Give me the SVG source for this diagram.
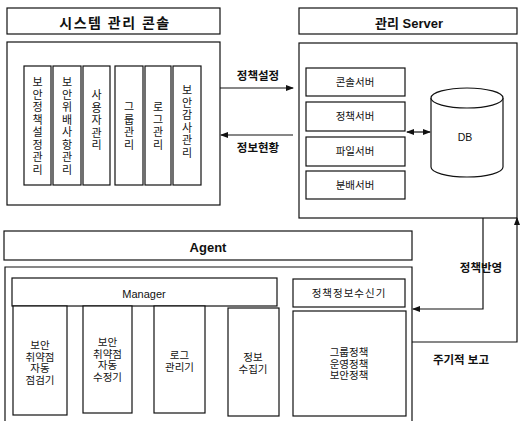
<svg xmlns="http://www.w3.org/2000/svg" width="521" height="421" viewBox="0 0 521 421">
<defs>
<style>
.b{fill:#fff;stroke:#111;stroke-width:1.2}
.t{font-family:"Liberation Sans","Noto Sans CJK KR",sans-serif;fill:#111;text-anchor:middle}
.h{font-weight:bold}
.v{font-size:11px}
.s{font-size:10.5px}
.c{fill:none;stroke:#111;stroke-width:1.2}
</style>
<marker id="ah" markerWidth="8" markerHeight="6" refX="7" refY="3" orient="auto" markerUnits="userSpaceOnUse">
<path d="M0,0 L8,3 L0,6 Z" fill="#111"/>
</marker>
<marker id="as" markerWidth="8" markerHeight="6" refX="1" refY="3" orient="auto" markerUnits="userSpaceOnUse">
<path d="M8,0 L0,3 L8,6 Z" fill="#111"/>
</marker>
</defs>
<rect width="521" height="421" fill="#fff"/>

<g id="console">
<rect class="b" x="7" y="8" width="213" height="26"/>
<text class="t h" x="115" y="28" font-size="14" letter-spacing="1.5">시스템 관리 콘솔</text>
<rect class="b" x="7" y="42" width="213" height="163"/>
</g>
<g id="bar1">
<rect class="b" x="24" y="66" width="27" height="119"/>
<text class="t v"><tspan x="37.5" y="86">보</tspan><tspan x="37.5" y="98.5">안</tspan><tspan x="37.5" y="111">정</tspan><tspan x="37.5" y="123.5">책</tspan><tspan x="37.5" y="136">설</tspan><tspan x="37.5" y="148.5">정</tspan><tspan x="37.5" y="161">관</tspan><tspan x="37.5" y="173.5">리</tspan></text>
</g>
<g id="bar2">
<rect class="b" x="53" y="66" width="28" height="119"/>
<text class="t v"><tspan x="67" y="86">보</tspan><tspan x="67" y="98.5">안</tspan><tspan x="67" y="111">위</tspan><tspan x="67" y="123.5">배</tspan><tspan x="67" y="136">사</tspan><tspan x="67" y="148.5">항</tspan><tspan x="67" y="161">관</tspan><tspan x="67" y="173.5">리</tspan></text>
</g>
<g id="bar3">
<rect class="b" x="83" y="66" width="27" height="119"/>
<text class="t v"><tspan x="96.5" y="99">사</tspan><tspan x="96.5" y="111.5">용</tspan><tspan x="96.5" y="124">자</tspan><tspan x="96.5" y="136.5">관</tspan><tspan x="96.5" y="149">리</tspan></text>
</g>
<g id="bar4">
<rect class="b" x="115" y="66" width="28" height="119"/>
<text class="t v"><tspan x="129" y="111">그</tspan><tspan x="129" y="123.5">룹</tspan><tspan x="129" y="136">관</tspan><tspan x="129" y="148.5">리</tspan></text>
</g>
<g id="bar5">
<rect class="b" x="145" y="66" width="26" height="119"/>
<text class="t v"><tspan x="158" y="111">로</tspan><tspan x="158" y="123.5">그</tspan><tspan x="158" y="136">관</tspan><tspan x="158" y="148.5">리</tspan></text>
</g>
<g id="bar6">
<rect class="b" x="173" y="66" width="28" height="119"/>
<text class="t v"><tspan x="187" y="94">보</tspan><tspan x="187" y="106.5">안</tspan><tspan x="187" y="119">감</tspan><tspan x="187" y="131.5">사</tspan><tspan x="187" y="144">관</tspan><tspan x="187" y="156.5">리</tspan></text>
</g>

<g id="server">
<rect class="b" x="299" y="8" width="218" height="26"/>
<text class="t h" x="409" y="27.5" font-size="13">관리 Server</text>
<rect class="b" x="299" y="43" width="218" height="175"/>
</g>
<g id="srv1"><rect class="b" x="306" y="68" width="99" height="28"/><text class="t s" x="355" y="86">콘솔서버</text></g>
<g id="srv2"><rect class="b" x="306" y="102" width="99" height="29"/><text class="t s" x="355" y="120">정책서버</text></g>
<g id="srv3"><rect class="b" x="306" y="137" width="99" height="29"/><text class="t s" x="355" y="155">파일서버</text></g>
<g id="srv4"><rect class="b" x="306" y="171" width="99" height="28"/><text class="t s" x="355" y="189">분배서버</text></g>
<g id="db">
<path class="b" d="M431,98 L431,167 A36,10 0 0 0 503,167 L503,98"/>
<ellipse class="b" cx="467" cy="98" rx="36" ry="10"/>
<text class="t s" x="465" y="141">DB</text>
</g>

<g id="agent">
<rect class="b" x="4" y="231" width="408" height="29"/>
<text class="t h" x="208" y="251.5" font-size="13">Agent</text>
<path class="c" d="M5,421 L5,267 L412,267 L412,421"/>
</g>
<g id="manager"><rect class="b" x="12" y="278" width="265" height="28"/><text class="t" x="144" y="297.5" font-size="11">Manager</text></g>
<g id="ag1"><rect class="b" x="13" y="306" width="54" height="109"/><text class="t s"><tspan x="40" y="349">보안</tspan><tspan x="40" y="361">취약점</tspan><tspan x="40" y="372">자동</tspan><tspan x="40" y="383.5">점검기</tspan></text></g>
<g id="ag2"><rect class="b" x="83" y="306" width="49" height="107"/><text class="t s"><tspan x="107.5" y="346">보안</tspan><tspan x="107.5" y="357.5">취약점</tspan><tspan x="107.5" y="369">자동</tspan><tspan x="107.5" y="380.5">수정기</tspan></text></g>
<g id="ag3"><rect class="b" x="154" y="306" width="51" height="107"/><text class="t s"><tspan x="179.5" y="359">로그</tspan><tspan x="179.5" y="371">관리기</tspan></text></g>
<g id="ag4"><rect class="b" x="228" y="308" width="51" height="108"/><text class="t s"><tspan x="253" y="361">정보</tspan><tspan x="253" y="372.5">수집기</tspan></text></g>
<g id="receiver"><rect class="b" x="293" y="279" width="112" height="28"/><text class="t s" x="349" y="297" letter-spacing="1">정책정보수신기</text></g>
<g id="policy"><rect class="b" x="293" y="311" width="113" height="105"/><text class="t s"><tspan x="349" y="356">그룹정책</tspan><tspan x="349" y="367.5">운영정책</tspan><tspan x="349" y="379">보안정책</tspan></text></g>

<g id="connectors">
<line class="c" x1="220" y1="88" x2="293" y2="88" marker-end="url(#ah)"/>
<line class="c" x1="293" y1="135" x2="221" y2="135" marker-end="url(#ah)"/>
<line class="c" x1="407" y1="132" x2="430" y2="132" marker-start="url(#as)" marker-end="url(#ah)"/>
<path class="c" d="M483,218 L483,309 L413,309" marker-end="url(#ah)"/>
<path class="c" d="M412,342 L517,342 L517,218" marker-end="url(#ah)"/>
<text class="t h" x="258" y="80" font-size="11.5">정책설정</text>
<text class="t h" x="258" y="152" font-size="11.5">정보현황</text>
<text class="t h" x="481" y="272" font-size="11.5">정책반영</text>
<text class="t h" x="461" y="364" font-size="11.5">주기적 보고</text>
</g>
</svg>
